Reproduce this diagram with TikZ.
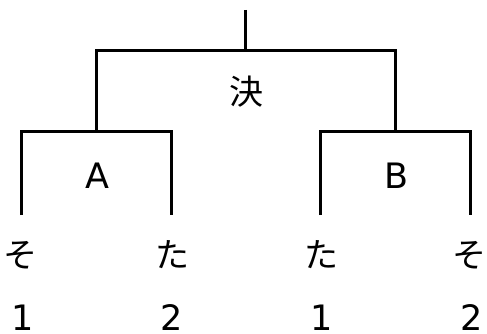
\documentclass[tikz,border=0pt]{standalone}
\usepackage{fontspec}
\setmainfont{DejaVu Sans}
\newfontfamily\jpfont{Noto Sans CJK JP}
\begin{document}
\begin{tikzpicture}[x=1pt,y=-1pt,
  bline/.style={line width=3pt, line cap=butt, line join=miter},
  lbl/.style={inner sep=0pt, anchor=base, font=\fontsize{35}{35}\selectfont},
  jlbl/.style={inner sep=0pt, anchor=base, font=\fontsize{34}{34}\selectfont\jpfont}]
\useasboundingbox (0,0) rectangle (487,334);
% coordinates of the bracket
\coordinate (top) at (245,10);
\coordinate (fmid) at (245,51);
\coordinate (fl) at (96,51);
\coordinate (fr) at (395,51);
\coordinate (al) at (21,132);
\coordinate (ar) at (171,132);
\coordinate (bl) at (320,132);
\coordinate (br) at (470,132);
\coordinate (am) at (96,132);
\coordinate (bm) at (395,132);
\coordinate (p1) at (21,215);
\coordinate (p2) at (171,215);
\coordinate (p3) at (320,215);
\coordinate (p4) at (470,215);
% lines
\draw[bline] (top) -- (fmid);
\draw[bline] (am) -- (fl) -- (fr) -- (bm);
\draw[bline] (p1) -- (al) -- (ar) -- (p2);
\draw[bline] (p3) -- (bl) -- (br) -- (p4);
% labels
\node[jlbl] (fin) at (246,105) {決};
\node[lbl] (A) at (97,188) {A};
\node[lbl] (B) at (396,188) {B};
\node[jlbl] (s1) at (21,267) {そ};
\node[jlbl] (t1) at (172,267) {た};
\node[jlbl] (t2) at (321,267) {た};
\node[jlbl] (s2) at (469,267) {そ};
\node[lbl] (n1) at (23,330) {1};
\node[lbl] (n2) at (172,330) {2};
\node[lbl] (n3) at (322,330) {1};
\node[lbl] (n4) at (472,330) {2};
\end{tikzpicture}
\end{document}
